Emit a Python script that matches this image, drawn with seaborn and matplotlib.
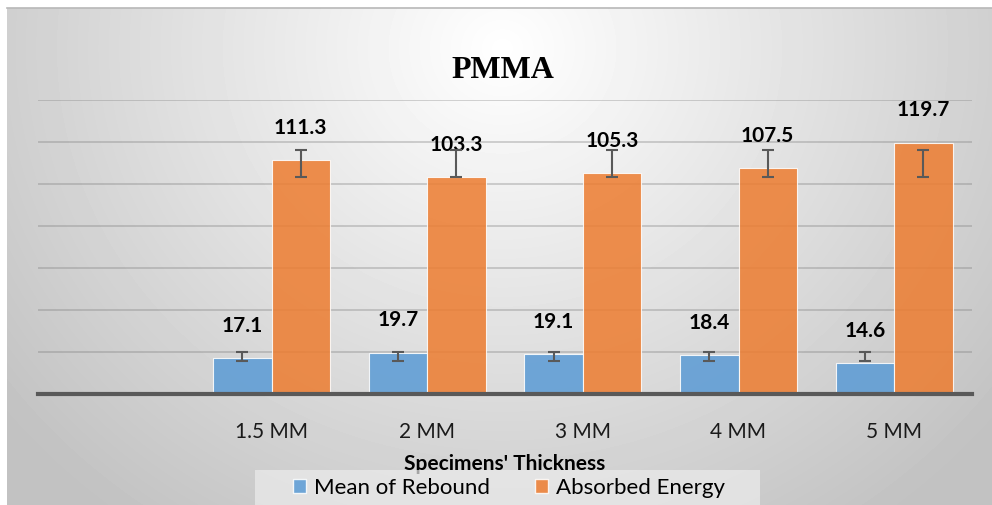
import numpy as np
import pandas as pd
import matplotlib.pyplot as plt
import seaborn as sns
from matplotlib.patches import Patch, Rectangle

# data
thickness = ["1.5 MM", "2 MM", "3 MM", "4 MM", "5 MM"]
rebound = [17.1, 19.7, 19.1, 18.4, 14.6]
energy = [111.3, 103.3, 105.3, 107.5, 119.7]
# error bar limits as drawn (they sit at the same place in every group)
rebound_lo = [15.6, 15.6, 15.6, 15.6, 15.6]
rebound_hi = [19.8, 19.8, 19.8, 19.8, 19.8]
energy_lo = [103.3, 103.3, 103.3, 103.3, 103.3]
energy_hi = [116.3, 116.3, 116.3, 116.3, 116.3]

series = ["Mean of Rebound", "Absorbed Energy"]
blue = "#5B9BD5"
orange = "#ED7D31"

df = pd.DataFrame({
    "thickness": thickness * 2,
    "series": [series[0]] * 5 + [series[1]] * 5,
    "value": rebound + energy,
})

W, H = 992, 505
fig = plt.figure(figsize=(W / 100, H / 100), dpi=100)

# radial grey background of the chart area
bg = fig.add_axes([7 / W, 0, 1 - 7 / W, (H - 8) / H], zorder=-10)
yy, xx = np.mgrid[0:497, 0:985]
r = np.sqrt(((xx - 495) / 520.0) ** 2 + ((yy - 40) / 480.0) ** 2)
shade = np.clip(255 - 50 * r, 194, 255) / 255.0
bg.imshow(shade, cmap="gray", vmin=0, vmax=1, aspect="auto", interpolation="bilinear")
bg.set_xticks([])
bg.set_yticks([])
for s in ["left", "right", "bottom"]:
    bg.spines[s].set_visible(False)
bg.spines["top"].set_color("#b8b8b8")
bg.spines["top"].set_linewidth(1.2)

ax = fig.add_axes([38 / W, 1 - 394 / H, 934 / W, 294 / H])
ax.set_facecolor("none")

order = [" "] + thickness
sns.barplot(data=df, x="thickness", y="value", hue="series", order=order,
            hue_order=series, palette=[blue, orange], saturation=1, alpha=0.86,
            width=0.75, edgecolor="white", linewidth=0.8, errorbar=None,
            legend=False, ax=ax, zorder=2)

ax.set_ylim(0, 140)
ax.set_xlim(-0.5, len(order) - 0.5)
ax.set_yticks(np.arange(20, 141, 20))
ax.yaxis.grid(True, color="#7a7a7a", alpha=0.38, linewidth=1.2)
ax.set_axisbelow(True)
ax.tick_params(axis="y", left=False, labelleft=False)
ax.tick_params(axis="x", bottom=False, pad=17, labelsize=15, labelcolor="#1a1a1a")
for lab in ax.get_xticklabels():
    lab.set_family("Lato")
for s in ["left", "right", "top"]:
    ax.spines[s].set_visible(False)
ax.spines["bottom"].set_color("#595959")
ax.spines["bottom"].set_linewidth(3)
ax.spines["bottom"].set_zorder(3)

ax.set_ylabel("")
ax.set_xlabel("Specimens' Thickness", fontsize=15, fontweight="bold",
              family="Lato", labelpad=8)

err_sets = [(rebound, rebound_lo, rebound_hi), (energy, energy_lo, energy_hi)]
for cont, (vals, lo, hi) in zip(ax.containers, err_sets):
    xs = [p.get_x() + p.get_width() / 2 for p in cont]
    mid = [(a + b) / 2 for a, b in zip(lo, hi)]
    yerr = [[m - a for m, a in zip(mid, lo)], [b - m for m, b in zip(mid, hi)]]
    ax.errorbar(xs, mid, yerr=yerr, fmt="none", ecolor="#595959",
                elinewidth=1.5, capsize=4.5, capthick=1.5, zorder=4)
    ax.bar_label(cont, labels=[f"{v:.1f}" for v in vals], padding=16,
                 fontsize=15, fontweight="bold", family="Lato", color="black")

fig.text(503 / W, 1 - 71 / H, "PMMA", ha="center", va="center",
         fontsize=23, fontweight="bold", family="Liberation Serif")

# legend box
fig.patches.append(Rectangle((255 / W, 0), 505 / W, 35 / H, transform=fig.transFigure,
                             facecolor="#ececec", alpha=0.7, edgecolor="none", zorder=1))
handles = [Patch(facecolor=blue, alpha=0.86, edgecolor="white"),
           Patch(facecolor=orange, alpha=0.86, edgecolor="white")]
fig.legend(handles, series, loc="center", bbox_to_anchor=(509 / W, 1 - 488 / H),
           ncol=2, frameon=False, handlelength=0.6, handleheight=0.6,
           handletextpad=0.35, columnspacing=2.0, borderpad=0,
           prop={"family": "Lato", "size": 16})

fig.savefig("out.png", dpi=100)
